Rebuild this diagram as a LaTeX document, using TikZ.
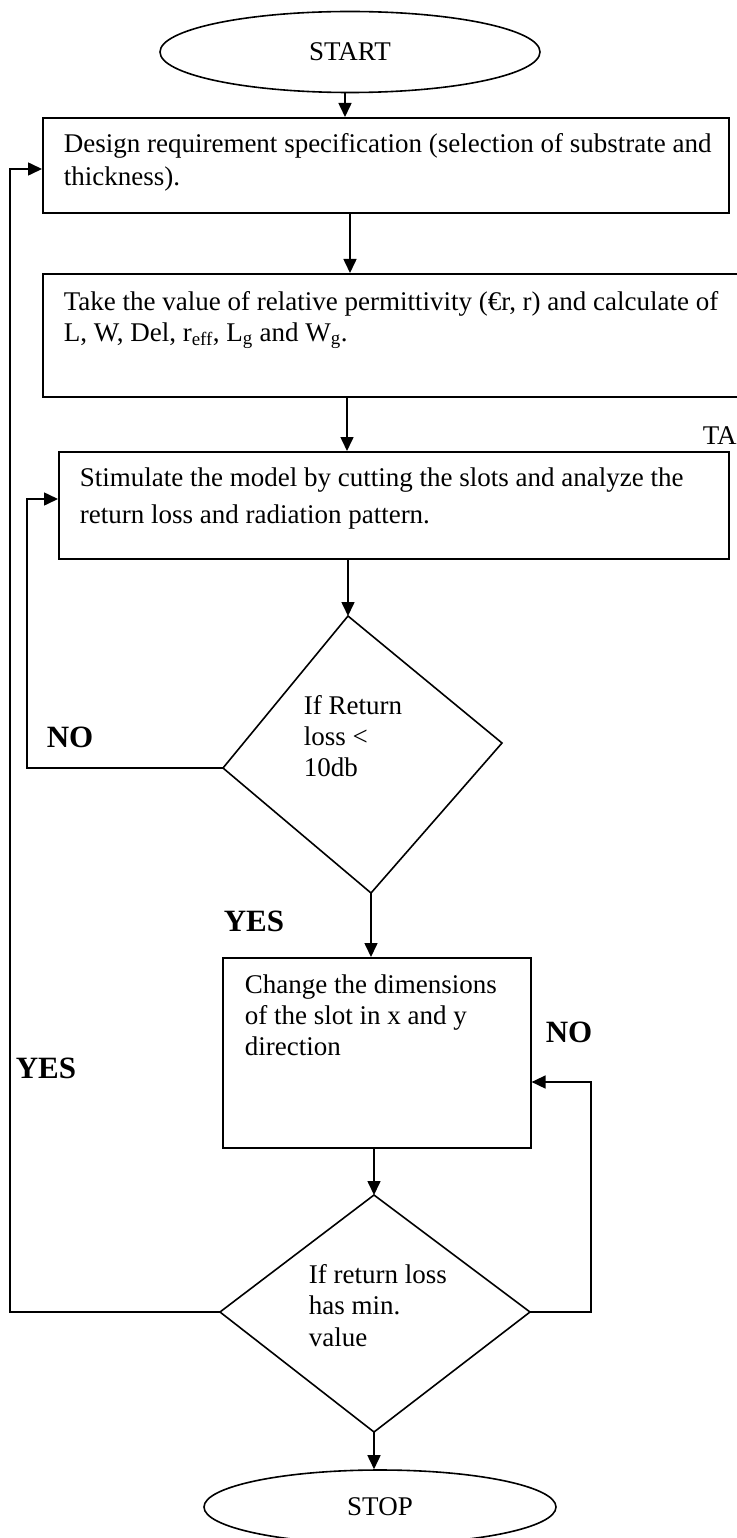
\documentclass[tikz,border=0pt]{standalone}
\usepackage{fontspec}
\setmainfont{Liberation Serif}
\usetikzlibrary{arrows.meta,shapes.geometric}
\begin{document}
\begin{tikzpicture}[x=1pt,y=-1pt,line width=1.6pt,
  txt/.style={font=\fontsize{27}{31}\selectfont,align=left,inner sep=0pt,anchor=base west},
  lbl/.style={font=\fontsize{31}{34}\selectfont\bfseries,inner sep=0pt,anchor=base west},
  arr/.style={-{Triangle[length=14pt,width=13pt]}},
  boxs/.style={draw,rectangle,inner sep=0pt,anchor=north west},
  term/.style={draw,ellipse,inner sep=0pt,font=\fontsize{27}{29}\selectfont}]
\useasboundingbox (0,0) rectangle (736,1538);

% terminals
\node[term,minimum width=380pt,minimum height=81pt] (start) at (350,52) {START};
\node[term,minimum width=352pt,minimum height=74pt] (stop) at (380,1507) {STOP};

% boxes
\node[boxs,minimum width=686pt,minimum height=95pt] (box1) at (42,117) {};
\node[boxs,minimum width=710pt,minimum height=123pt] (box2) at (42,273) {};
\node[boxs,minimum width=670pt,minimum height=107pt] (box3) at (58,451) {};
\node[boxs,minimum width=308pt,minimum height=190pt] (box4) at (222,957) {};

% texts (anchor = baseline of the last line)
\node[txt,font=\fontsize{27}{33}\selectfont] (t1) at (63,186) {Design requirement specification (selection of substrate and\\thickness).};
\node[txt,font=\fontsize{27}{31}\selectfont] (t2) at (63,341) {Take the value of relative permittivity (€r, r) and calculate of\\L, W, Del, r\textsubscript{eff}, L\textsubscript{g} and W\textsubscript{g}.};
\node[txt,font=\fontsize{27}{37}\selectfont] (t3) at (79,523) {Stimulate the model by cutting the slots and analyze the\\return loss and radiation pattern.};
\node[txt,font=\fontsize{27}{31}\selectfont] (t4) at (244,1055) {Change the dimensions\\of the slot in x and y\\direction};
\node[txt] (ta) at (702,444) {TA};

% diamonds
\coordinate (d1t) at (348,616);
\coordinate (d1r) at (502,743);
\coordinate (d1b) at (371,893);
\coordinate (d1l) at (223,768);
\draw (d1t) -- (d1r) -- (d1b) -- (d1l) -- cycle;
\node[txt,font=\fontsize{27}{31}\selectfont] (td1) at (303,776) {If Return\\loss <\\10db};

\coordinate (d2t) at (374,1195);
\coordinate (d2r) at (530,1312);
\coordinate (d2b) at (374,1432);
\coordinate (d2l) at (220,1312);
\draw (d2t) -- (d2r) -- (d2b) -- (d2l) -- cycle;
\node[txt,font=\fontsize{27}{31.5}\selectfont] (td2) at (308,1346) {If return loss\\has min.\\value};

% labels
\node[lbl] (no1) at (46,747) {NO};
\node[lbl] (yes1) at (223,931) {YES};
\node[lbl] (no2) at (545,1042) {NO};
\node[lbl] (yes2) at (15,1078) {YES};

% columns for loops
\coordinate (colA) at (350,0);
\coordinate (colB) at (347,0);
\coordinate (loopL) at (27,0);
\coordinate (loopO) at (10,0);
\coordinate (loopR) at (591,0);
\coordinate (in3) at (0,499);
\coordinate (in1) at (0,169);
\coordinate (in4) at (0,1082);

% connectors
\draw[arr] (start.south -| 345,0) -- (box1.north -| 345,0);
\draw[arr] (box1.south -| colA) -- (box2.north -| colA);
\draw[arr] (box2.south -| colB) -- (box3.north -| colB);
\draw[arr] (box3.south -| d1t) -- (d1t);
\draw[arr] (d1l) -- (d1l -| loopL) -- (loopL |- in3) -- (box3.west |- in3);
\draw[arr] (d1b) -- (d1b |- box4.north);
\draw[arr] (box4.south -| d2t) -- (d2t);
\draw[arr] (d2r) -- (d2r -| loopR) -- (loopR |- in4) -- (box4.east |- in4);
\draw[arr] (d2l) -- (d2l -| loopO) -- (loopO |- in1) -- (box1.west |- in1);
\draw[arr] (d2b) -- (d2b |- stop.north);
\end{tikzpicture}
\end{document}
